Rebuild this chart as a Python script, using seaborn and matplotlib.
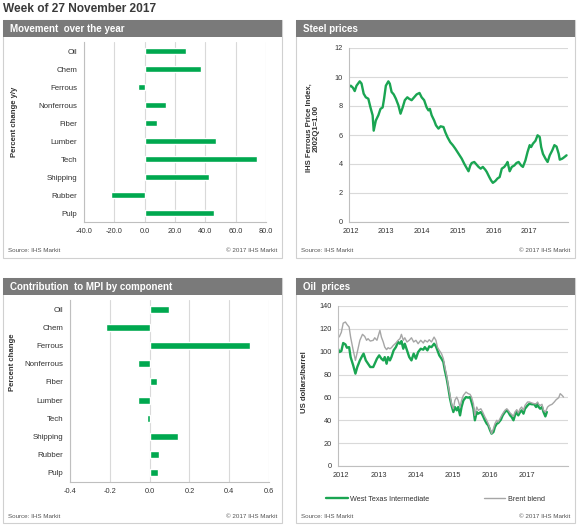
import numpy as np
import pandas as pd
import seaborn as sns
import matplotlib.pyplot as plt
from matplotlib.patches import Rectangle

# data
categories = ["Oil", "Chem", "Ferrous", "Nonferrous", "Fiber", "Lumber", "Tech", "Shipping", "Rubber", "Pulp"]
yoy_change = [27.5, 37.0, -4.4, 13.8, 8.4, 47.3, 74.0, 42.6, -22.4, 46.0]
mpi_contrib = [0.097, -0.22, 0.503, -0.06, 0.035, -0.06, -0.015, 0.141, 0.049, 0.042]

steel_years = [2011.96, 2012.01, 2012.07, 2012.12, 2012.17, 2012.26, 2012.31, 2012.37, 2012.43, 2012.50,
               2012.56, 2012.62, 2012.65, 2012.71, 2012.78, 2012.84, 2012.90, 2012.94, 2012.99, 2013.06,
               2013.10, 2013.15, 2013.21, 2013.27, 2013.34, 2013.40, 2013.46, 2013.52, 2013.59, 2013.64,
               2013.71, 2013.78, 2013.85, 2013.93, 2013.99, 2014.06, 2014.13, 2014.18, 2014.22, 2014.27,
               2014.34, 2014.39, 2014.46, 2014.52, 2014.60, 2014.65, 2014.71, 2014.79, 2014.86, 2014.93,
               2014.99, 2015.05, 2015.11, 2015.18, 2015.23, 2015.30, 2015.35, 2015.39, 2015.46, 2015.51,
               2015.58, 2015.64, 2015.70, 2015.77, 2015.81, 2015.88, 2015.93, 2015.98, 2016.05, 2016.11,
               2016.17, 2016.23, 2016.30, 2016.36, 2016.39, 2016.45, 2016.51, 2016.58, 2016.64, 2016.70,
               2016.77, 2016.82, 2016.89, 2016.95, 2017.01, 2017.05, 2017.10, 2017.17, 2017.23, 2017.29,
               2017.33, 2017.38, 2017.45, 2017.51, 2017.57, 2017.64, 2017.70, 2017.76, 2017.82, 2017.85,
               2017.92, 2017.98, 2018.04]
steel_index = [9.31, 9.4, 9.26, 9.03, 9.4, 9.7, 9.55, 8.85, 8.6, 8.5,
               7.9, 7.36, 6.3, 7.0, 7.36, 7.8, 7.9, 8.5, 9.4, 9.7,
               9.54, 8.97, 8.8, 8.5, 8.05, 7.47, 7.9, 8.4, 8.6, 8.5,
               8.4, 8.6, 8.8, 8.9, 8.6, 8.4, 7.9, 7.7, 7.8, 7.36,
               7.0, 6.67, 6.44, 6.6, 6.55, 6.2, 5.86, 5.5, 5.3, 5.06,
               4.83, 4.6, 4.37, 4.02, 3.8, 3.5, 3.9, 4.07, 4.14, 4.0,
               3.8, 3.68, 3.8, 3.6, 3.45, 3.1, 2.87, 2.7, 2.83, 3.0,
               3.1, 3.68, 3.8, 4.0, 4.14, 3.5, 3.8, 3.9, 4.07, 4.14,
               3.9, 3.8, 4.25, 4.83, 5.3, 5.17, 5.4, 5.6, 5.98, 5.86,
               5.17, 4.7, 4.37, 4.14, 4.6, 4.94, 5.3, 5.2, 4.7, 4.3,
               4.37, 4.48, 4.6]

wti_years = [2011.91, 2011.95, 2012.00, 2012.05, 2012.11, 2012.15, 2012.21, 2012.25, 2012.32, 2012.38,
             2012.43, 2012.50, 2012.57, 2012.60, 2012.66, 2012.72, 2012.78, 2012.86, 2012.90, 2012.96,
             2013.02, 2013.08, 2013.13, 2013.17, 2013.22, 2013.26, 2013.31, 2013.35, 2013.41, 2013.47,
             2013.53, 2013.58, 2013.62, 2013.67, 2013.71, 2013.77, 2013.83, 2013.89, 2013.95, 2014.01,
             2014.07, 2014.14, 2014.21, 2014.25, 2014.32, 2014.37, 2014.43, 2014.50, 2014.55, 2014.59,
             2014.64, 2014.70, 2014.75, 2014.79, 2014.84, 2014.88, 2014.93, 2014.97, 2015.02, 2015.06,
             2015.11, 2015.15, 2015.20, 2015.24, 2015.29, 2015.36, 2015.42, 2015.47, 2015.51, 2015.56,
             2015.60, 2015.65, 2015.69, 2015.76, 2015.81, 2015.87, 2015.92, 2015.96, 2016.01, 2016.05,
             2016.10, 2016.14, 2016.19, 2016.23, 2016.30, 2016.35, 2016.41, 2016.46, 2016.50, 2016.55,
             2016.59, 2016.64, 2016.68, 2016.73, 2016.77, 2016.82, 2016.86, 2016.91, 2016.95, 2017.02,
             2017.07, 2017.14, 2017.20, 2017.25, 2017.29, 2017.32, 2017.36, 2017.41, 2017.45, 2017.50,
             2017.54]
wti_price = [102.6, 99.7, 100.6, 107.6, 106.4, 103.5, 104.0, 95.3, 88.0, 80.8,
             86.6, 92.4, 96.8, 98.3, 92.4, 89.5, 86.6, 86.6, 89.5, 93.9,
             96.8, 93.9, 92.4, 95.3, 89.5, 95.3, 92.4, 95.3, 101.2, 104.0,
             108.5, 107.0, 109.3, 102.6, 107.0, 101.2, 95.3, 92.4, 98.3, 93.9,
             99.7, 102.6, 101.8, 104.0, 101.2, 104.7, 104.0, 107.0, 104.7, 101.2,
             96.8, 93.9, 91.0, 83.7, 76.4, 69.1, 58.9, 53.0, 47.2, 51.6,
             48.7, 51.6, 44.3, 51.6, 57.4, 60.3, 59.8, 60.3, 56.0, 50.1,
             40.0, 47.2, 45.8, 47.2, 44.3, 40.0, 37.0, 35.6, 31.2, 28.3,
             29.7, 34.1, 37.0, 37.6, 40.5, 44.3, 47.2, 48.7, 47.2, 44.3,
             42.9, 40.0, 44.3, 47.2, 44.3, 47.2, 48.7, 45.8, 50.1, 53.0,
             54.5, 54.0, 54.0, 51.6, 54.5, 51.6, 50.1, 51.6, 47.2, 43.4,
             47.2]

brent_years = [2011.91, 2011.95, 2012.00, 2012.05, 2012.11, 2012.15, 2012.21, 2012.25, 2012.32, 2012.38,
               2012.43, 2012.50, 2012.57, 2012.63, 2012.68, 2012.72, 2012.78, 2012.86, 2012.90, 2012.96,
               2013.04, 2013.08, 2013.13, 2013.17, 2013.22, 2013.26, 2013.31, 2013.35, 2013.40, 2013.47,
               2013.53, 2013.58, 2013.62, 2013.67, 2013.71, 2013.77, 2013.83, 2013.89, 2013.95, 2014.01,
               2014.07, 2014.14, 2014.21, 2014.25, 2014.32, 2014.37, 2014.43, 2014.50, 2014.55, 2014.59,
               2014.64, 2014.70, 2014.75, 2014.79, 2014.84, 2014.88, 2014.93, 2014.97, 2015.02, 2015.06,
               2015.11, 2015.15, 2015.20, 2015.24, 2015.29, 2015.36, 2015.42, 2015.47, 2015.51, 2015.56,
               2015.60, 2015.65, 2015.69, 2015.76, 2015.81, 2015.87, 2015.92, 2015.96, 2016.01, 2016.05,
               2016.10, 2016.14, 2016.19, 2016.23, 2016.30, 2016.35, 2016.41, 2016.46, 2016.50, 2016.55,
               2016.59, 2016.64, 2016.68, 2016.73, 2016.77, 2016.82, 2016.86, 2016.91, 2016.95, 2017.02,
               2017.07, 2017.14, 2017.20, 2017.25, 2017.29, 2017.32, 2017.36, 2017.41, 2017.45, 2017.50,
               2017.56, 2017.61, 2017.68, 2017.74, 2017.79, 2017.86, 2017.90, 2017.95, 2017.99]
brent_price = [112.0, 113.4, 117.0, 125.0, 126.0, 124.0, 121.6, 112.8, 101.2, 92.4,
               99.7, 110.0, 115.2, 113.4, 110.0, 111.4, 109.3, 110.0, 112.2, 110.0,
               118.7, 112.8, 108.5, 104.0, 101.8, 103.5, 102.6, 103.5, 105.5, 107.6,
               110.0, 111.4, 115.2, 110.0, 112.2, 108.5, 110.0, 112.2, 108.5, 110.0,
               107.0, 110.0, 107.6, 110.0, 108.5, 110.5, 108.5, 112.8, 110.0, 104.0,
               101.2, 98.3, 93.9, 86.6, 79.3, 70.6, 61.8, 54.5, 50.1, 57.4,
               60.3, 57.4, 51.6, 57.4, 61.8, 64.7, 63.3, 62.7, 60.3, 54.5,
               44.3, 51.6, 48.7, 50.1, 47.2, 42.9, 40.0, 37.0, 32.7, 28.3,
               32.7, 37.0, 40.0, 38.5, 42.9, 45.8, 48.7, 50.1, 48.7, 46.4,
               45.2, 43.4, 47.2, 49.3, 46.4, 50.1, 51.6, 48.7, 53.0, 56.0,
               56.0, 55.1, 54.5, 54.5, 56.0, 54.0, 53.0, 54.0, 48.7, 47.2,
               51.6, 53.0, 54.0, 56.0, 58.0, 59.8, 63.3, 61.8, 60.3]

year_ticks = [2012, 2013, 2014, 2015, 2016, 2017]

GREEN = "#00a84f"
LINE_GREEN = "#1aa552"
HEADER = "#7a7a7a"
GRID = "#d9d9d9"
TXT = "#333333"

sns.set_style("white")
plt.rcParams["font.family"] = ["Liberation Sans", "DejaVu Sans"]

W, H = 580, 526
fig = plt.figure(figsize=(W / 100, H / 100), dpi=100)


def fx(px):
    return px / W


def fy(py):
    return 1 - py / H


def add_box(x0, y0, x1, y1, title):
    fig.patches.append(Rectangle((fx(x0), fy(y1)), fx(x1) - fx(x0), fy(y0) - fy(y1),
                                 transform=fig.transFigure, facecolor="white",
                                 edgecolor="#d0d0d0", linewidth=0.8, zorder=-2))
    fig.patches.append(Rectangle((fx(x0), fy(y0 + 17)), fx(x1) - fx(x0), 17 / H,
                                 transform=fig.transFigure, facecolor=HEADER,
                                 edgecolor="none", zorder=-1))
    fig.text(fx(x0 + 7), fy(y0 + 8.5), title, color="white", fontsize=7.0,
             fontweight="bold", va="center", ha="left")
    fig.text(fx(x0 + 5), fy(y1 - 7), "Source: IHS Markit", color="#555555",
             fontsize=4.5, va="center", ha="left")
    fig.text(fx(x1 - 5), fy(y1 - 7), "\u00a9 2017 IHS Markit", color="#555555",
             fontsize=4.5, va="center", ha="right")


def add_ax(left, top, right, bottom):
    ax = fig.add_axes([fx(left), fy(bottom), fx(right) - fx(left), fy(top) - fy(bottom)])
    ax.patch.set_alpha(0)
    return ax


def style_axes(ax):
    for side in ["top", "right"]:
        ax.spines[side].set_visible(False)
    for side in ["left", "bottom"]:
        ax.spines[side].set_color("#bfbfbf")
        ax.spines[side].set_linewidth(0.8)
    ax.tick_params(labelsize=5.3, colors=TXT, length=2.5, width=0.6, pad=2)
    ax.tick_params(axis="both", color="#bfbfbf")
    ax.set_xlabel("")
    ax.set_ylabel("")


def ylabel(px, py, text):
    fig.text(fx(px), fy(py), text, rotation=90, fontsize=5.6, color=TXT,
             fontweight="bold", va="center", ha="center", linespacing=1.0)


fig.text(fx(3), fy(9), "Week of 27 November 2017", color="#3a3a3a", fontsize=8.6,
         fontweight="bold", va="center", ha="left")

add_box(3, 20, 282, 258, "Movement  over the year")
add_box(296, 20, 575, 258, "Steel prices")
add_box(3, 278, 282, 523, "Contribution  to MPI by component")
add_box(296, 278, 575, 523, "Oil  prices")

# panel 1: movement over the year
ax1 = add_ax(84, 42, 266, 222)
sns.barplot(x=yoy_change, y=categories, orient="h", color=GREEN, saturation=1,
            width=0.38, ax=ax1, zorder=3)
ax1.set_xlim(-40, 80)
ax1.set_xticks([-40, -20, 0, 20, 40, 60, 80])
ax1.set_xticklabels([f"{v:.1f}" for v in [-40, -20, 0, 20, 40, 60, 80]])
ax1.grid(axis="x", color=GRID, linewidth=0.8, zorder=0)
ax1.set_axisbelow(True)
style_axes(ax1)
ax1.tick_params(axis="y", length=0, pad=5, labelsize=5.7)
ylabel(14, 122, "Percent change y/y")

# panel 3: contribution to MPI
ax3 = add_ax(70, 300, 269, 482)
sns.barplot(x=mpi_contrib, y=categories, orient="h", color=GREEN, saturation=1,
            width=0.38, ax=ax3, zorder=3)
ax3.set_xlim(-0.4, 0.6)
ax3.set_xticks([-0.4, -0.2, 0.0, 0.2, 0.4, 0.6])
ax3.set_xticklabels([f"{v:.1f}" for v in [-0.4, -0.2, 0.0, 0.2, 0.4, 0.6]])
ax3.grid(axis="x", color=GRID, linewidth=0.8, zorder=0)
ax3.set_axisbelow(True)
style_axes(ax3)
ax3.tick_params(axis="y", length=0, pad=5, labelsize=5.7)
ylabel(13, 362, "Percent change")

# panel 2: steel prices
ax2 = add_ax(349, 48, 568, 222)
sns.lineplot(x=steel_years, y=steel_index, color=LINE_GREEN, linewidth=1.7, ax=ax2)
ax2.set_xlim(2011.96, 2018.08)
ax2.set_ylim(0, 12)
ax2.set_yticks(range(0, 13, 2))
ax2.set_xticks(year_ticks)
ax2.set_xticklabels([str(y) for y in year_ticks])
ax2.grid(axis="y", color=GRID, linewidth=0.8)
style_axes(ax2)
ylabel(313, 128, "IHS Ferrous Price Index,\n2002Q1=1.00")

# panel 4: oil prices
ax4 = add_ax(338, 306, 568, 466)
sns.lineplot(x=wti_years, y=wti_price, color=LINE_GREEN, linewidth=1.7, ax=ax4,
             label="West Texas Intermediate")
sns.lineplot(x=brent_years, y=brent_price, color="#a6a6a6", linewidth=1.0, ax=ax4,
             label="Brent blend")
ax4.set_xlim(2011.91, 2018.11)
ax4.set_ylim(0, 140)
ax4.set_yticks(range(0, 141, 20))
ax4.set_xticks(year_ticks)
ax4.set_xticklabels([str(y) for y in year_ticks])
ax4.grid(axis="y", color=GRID, linewidth=0.8)
style_axes(ax4)
ylabel(305, 382, "US dollars/barrel")
ax4.legend(loc="center", bbox_to_anchor=(fx(435.5), fy(499)), bbox_transform=fig.transFigure,
           ncol=2, frameon=False, fontsize=5.2, handlelength=3.0, columnspacing=7.5,
           handletextpad=0.3, labelcolor=TXT)

fig.savefig("out.png", dpi=100, facecolor="white")
